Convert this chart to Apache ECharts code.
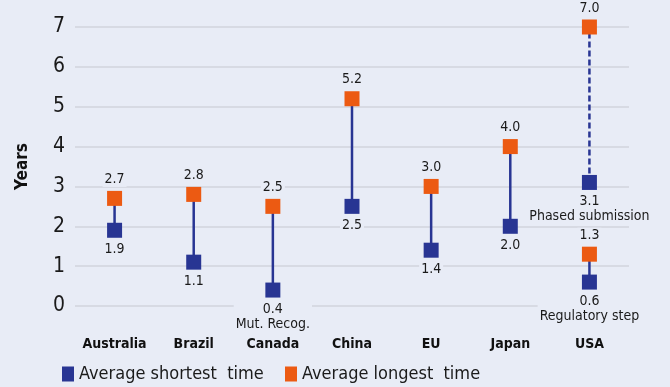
<!DOCTYPE html>
<html>
<head>
<meta charset="utf-8">
<script src="https://cdn.jsdelivr.net/npm/echarts@6/dist/echarts.min.js"></script>
<style>
    html, body {margin: 0; padding: 0; background: #e8ecf6;}
    #chart {width: 670px; height: 387px;}
</style>
</head>
<body>
<div id="chart"></div>
<script>
var categories = ['Australia', 'Brazil', 'Canada', 'China', 'EU', 'Japan', 'USA'];
var shortest = [1.9, 1.1, 0.4, 2.5, 1.4, 2.0, 3.1];
var longest = [2.7, 2.8, 2.5, 5.2, 3.0, 4.0, 7.0];
var shortestNotes = ['', '', 'Mut. Recog.', '', '', '', 'Phased submission'];
// USA has a second (regulatory step) range
var extraCategory = 'USA';
var extraShortest = 0.6;
var extraLongest = 1.3;
var extraNote = 'Regulatory step';
var dashedCategory = 'USA';
var yTicks = [0, 1, 2, 3, 4, 5, 6, 7];
var seriesNames = ['Average shortest  time', 'Average longest  time'];

var bg = '#e8ecf6';
var navy = '#283593';
var orange = '#ec5a12';
var font = '"DejaVu Sans Condensed", "DejaVu Sans", sans-serif';

var chart = echarts.init(document.getElementById('chart'));

var ranges = [];
for (var i = 0; i < categories.length; i++) {
    ranges.push([i, shortest[i], longest[i], categories[i] == dashedCategory ? 1 : 0]);
}
var extraIdx = categories.indexOf(extraCategory);
ranges.push([extraIdx, extraShortest, extraLongest, 0]);

var lowData = [];
var highData = [];
for (var i = 0; i < categories.length; i++) {
    lowData.push({value: [i, shortest[i]], note: shortestNotes[i]});
    highData.push({value: [i, longest[i]]});
}
lowData.push({value: [extraIdx, extraShortest], note: extraNote});
highData.push({value: [extraIdx, extraLongest]});

var labelStyle = {
    show: true,
    color: '#1a1a1a',
    fontSize: 14,
    fontFamily: font,
    backgroundColor: bg,
    padding: [0, 2],
    lineHeight: 15
};

function legendAt(left, name) {
    return {
        top: 365,
        left: left,
        padding: 0,
        itemWidth: 12,
        itemHeight: 15,
        itemGap: 0,
        icon: 'rect',
        textStyle: {fontSize: 18, color: '#1a1a1a', fontFamily: font},
        data: [name]
    };
}

var option = {
    backgroundColor: bg,
    animation: false,
    grid: {left: 75, right: 41, top: 27, bottom: 81},
    legend: [legendAt(62, seriesNames[0]), legendAt(285, seriesNames[1])],
    xAxis: {
        type: 'category',
        data: categories,
        axisLine: {show: false},
        axisTick: {show: false},
        axisLabel: {interval: 0, fontSize: 14, fontWeight: 'bold', color: '#111', fontFamily: font, margin: 31}
    },
    yAxis: {
        type: 'value',
        min: 0,
        max: 7,
        interval: 1,
        name: 'Years',
        nameLocation: 'middle',
        nameGap: 44,
        nameTextStyle: {fontSize: 17, fontWeight: 'bold', color: '#111', fontFamily: font},
        axisLabel: {fontSize: 21, color: '#1a1a1a', fontFamily: font, margin: 10,
            formatter: function (v) { return yTicks.indexOf(v) >= 0 ? v : ''; }},
        splitLine: {lineStyle: {color: '#d2d5dc', width: 1.5}}
    },
    series: [
        {
            type: 'custom',
            name: 'range',
            z: 1,
            renderItem: function (params, api) {
                var p1 = api.coord([api.value(0), api.value(1)]);
                var p2 = api.coord([api.value(0), api.value(2)]);
                return {
                    type: 'line',
                    shape: {x1: p1[0], y1: p1[1], x2: p2[0], y2: p2[1]},
                    style: {stroke: navy, lineWidth: 2.5, lineDash: api.value(3) ? [6, 3] : null}
                };
            },
            data: ranges
        },
        {
            type: 'scatter',
            name: seriesNames[0],
            symbol: 'rect',
            symbolSize: 15,
            z: 3,
            itemStyle: {color: navy, opacity: 1},
            label: Object.assign({}, labelStyle, {
                position: 'bottom',
                distance: 4,
                formatter: function (p) {
                    var s = p.value[1].toFixed(1);
                    return p.data.note ? s + '\n' + p.data.note : s;
                }
            }),
            data: lowData
        },
        {
            type: 'scatter',
            name: seriesNames[1],
            symbol: 'rect',
            symbolSize: 15,
            z: 3,
            itemStyle: {color: orange, opacity: 1},
            label: Object.assign({}, labelStyle, {
                position: 'top',
                distance: 4,
                formatter: function (p) { return p.value[1].toFixed(1); }
            }),
            data: highData
        }
    ]
};
chart.setOption(option);
</script>
</body>
</html>
